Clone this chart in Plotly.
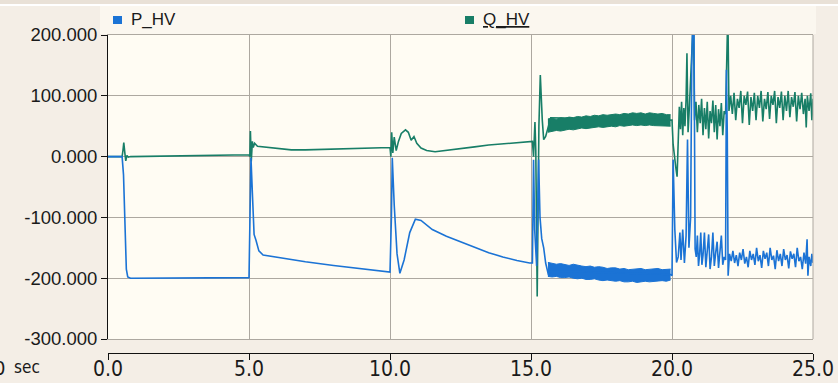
import plotly.graph_objects as go

# ---- time axis ticks ----
x_ticks = [0, 5, 10, 15, 20, 25]
x_ticktext = ["0.0", "5.0", "10.0", "15.0", "20.0", "25.0"]
y_ticks = [200, 100, 0, -100, -200, -300]
y_ticktext = ["200.000", "100.000", "0.000", "-100.000", "-200.000", "-300.000"]

# ---- P_HV (active power), sampled trace ----
t_p = [0.00, 0.50, 0.55, 0.60, 0.65, 0.70, 0.80, 5.00,
       5.03, 5.07, 5.12, 5.18, 5.25, 5.35, 5.50, 6.00, 7.00, 8.00, 9.00, 10.00,
       10.05, 10.08, 10.15, 10.25, 10.35, 10.50, 10.70, 10.90, 11.10, 11.50,
       12.00, 12.50, 13.00, 13.50, 14.00, 14.50, 14.95,
       15.05, 15.09, 15.13, 15.20, 15.27, 15.32, 15.38, 15.45, 15.52, 15.62, 15.70,
       19.95, 20.00, 20.04, 20.10, 20.16, 20.22, 20.28, 20.32, 20.38, 20.44, 20.50,
       20.55, 20.60, 20.66, 20.70, 20.74, 20.78, 20.82, 20.86, 20.90, 20.94, 20.98,
       21.02, 21.06, 21.10, 21.15, 21.20, 21.25, 21.30, 21.35, 21.40, 21.45, 21.50,
       21.55, 21.60, 21.65, 21.70, 21.75, 21.80, 21.85, 21.90, 21.93, 21.96, 21.99,
       22.04, 22.10, 22.16, 22.22, 22.28, 22.34, 22.40, 22.46, 22.52, 22.58, 22.64,
       22.70, 22.76, 22.82, 22.88, 22.94, 23.00, 23.06, 23.12, 23.18, 23.24, 23.30,
       23.36, 23.42, 23.48, 23.54, 23.60, 23.66, 23.72, 23.78, 23.84, 23.90, 23.96,
       24.02, 24.08, 24.14, 24.20, 24.26, 24.32, 24.38, 24.44, 24.50, 24.56, 24.62,
       24.68, 24.74, 24.79, 24.82, 24.86, 24.92, 24.96, 25.00]
p_hv = [0, 0, -30, -120, -185, -198, -200, -199,
        -100, -2, -60, -128, -138, -155, -162, -166, -173, -179, -185, -190,
        -100, -2, -80, -160, -192, -170, -125, -103, -105, -120,
        -131, -140, -150, -158, -165, -171, -175,
        -175, -5, -120, -180, -5, -100, -135, -150, -175, -195, -188,
        -194, -196, -5, -120, -174, -165, -125, -170, -120, -175, -130,
        28, -150, -100, 150, 230, 210, -152, -165, -130, -180, -160,
        -125, -178, -162, -125, -182, -160, -128, -185, -165, -125, -180,
        -158, -140, -183, -162, -130, -178, -165, -170, 143, 40, -196,
        -160, -172, -155, -175, -162, -180, -158, -170, -152, -176, -165,
        -182, -155, -170, -160, -178, -150, -172, -162, -183, -155, -168,
        -158, -180, -150, -170, -163, -185, -154, -172, -160, -180, -152,
        -170, -162, -184, -156, -168, -160, -182, -150, -172, -165, -185,
        -158, -176, -136, -196, -165, -180, -160, -175]

# dense oscillation band between 15.6 s and 20 s (upper / lower envelopes)
t_band = [15.60, 15.75, 15.90, 16.05, 16.20, 16.35, 16.50, 16.65, 16.80, 16.95,
          17.10, 17.25, 17.40, 17.55, 17.70, 17.85, 18.00, 18.15, 18.30, 18.45,
          18.60, 18.75, 18.90, 19.05, 19.20, 19.35, 19.50, 19.65, 19.80, 19.95]
p_band_hi = [-174, -176, -177, -176, -178, -179, -177, -179, -180, -181,
             -180, -182, -181, -182, -184, -183, -183, -185, -184, -186,
             -185, -185, -184, -186, -185, -185, -184, -186, -185, -185]
p_band_lo = [-197, -198, -197, -199, -199, -198, -200, -201, -200, -202,
             -202, -201, -203, -204, -203, -204, -205, -204, -206, -206,
             -205, -207, -206, -205, -206, -205, -205, -204, -205, -203]

# ---- Q_HV (reactive power), sampled trace ----
t_q = [0.00, 0.50, 0.53, 0.56, 0.60, 0.63, 0.67, 0.72, 0.80, 2.00, 4.00, 5.00,
       5.03, 5.05, 5.08, 5.12, 5.15, 5.20, 5.30, 5.50, 6.00, 6.50, 7.00, 8.00, 9.00, 10.00,
       10.03, 10.06, 10.10, 10.15, 10.22, 10.30, 10.40, 10.55, 10.65, 10.75, 10.85, 10.95,
       11.10, 11.30, 11.60, 12.00, 12.50, 13.00, 13.50, 14.00, 14.50, 14.95,
       15.05, 15.09, 15.14, 15.17, 15.22, 15.28, 15.33, 15.40, 15.45, 15.52, 15.62, 15.70,
       19.95, 20.00, 20.04, 20.08, 20.14, 20.18, 20.22, 20.26, 20.30, 20.34, 20.38, 20.42,
       20.46, 20.50, 20.53, 20.57, 20.62, 20.67, 20.72, 20.76, 20.80, 20.85, 20.90, 20.95,
       21.00, 21.05, 21.10, 21.15, 21.20, 21.25, 21.30, 21.35, 21.40, 21.45, 21.50, 21.55,
       21.60, 21.65, 21.70, 21.75, 21.80, 21.85, 21.90, 21.94, 21.98, 22.02, 22.08, 22.14,
       22.20, 22.26, 22.32, 22.38, 22.44, 22.50, 22.56, 22.62, 22.68, 22.74, 22.80, 22.86,
       22.92, 22.98, 23.04, 23.10, 23.16, 23.22, 23.28, 23.34, 23.40, 23.46, 23.52, 23.58,
       23.64, 23.70, 23.76, 23.82, 23.88, 23.94, 24.00, 24.06, 24.12, 24.18, 24.24, 24.30,
       24.36, 24.42, 24.48, 24.54, 24.60, 24.66, 24.72, 24.76, 24.80, 24.86, 24.92, 24.96,
       25.00]
q_hv = [0, 0, 10, 23, 5, -7, 2, -1, 0, 1, 2, 3,
        0, 42, -8, 25, 15, 22, 17, 16, 13, 11, 11, 12, 14, 15,
        0, 40, 6, 32, 10, 25, 38, 44, 40, 27, 33, 22,
        14, 10, 8, 10, 13, 16, 19, 21, 23, 25,
        25, 0, 57, 10, -230, 50, 134, 60, 28, 33, 50, 64,
        60, 60, 20, 0, -20, -33, 10, 82, 45, 90, 35, 80,
        50, 95, 170, 40, 85, 150, 215, 230, 60, 90, 40, 85,
        55, 95, 35, 80, 45, 90, 30, 75, 55, 92, 40, 85,
        28, 78, 50, 88, 35, 75, 70, 230, 240, 75, 100, 70,
        105, 60, 95, 80, 108, 55, 100, 85, 107, 52, 98, 75,
        105, 60, 100, 80, 108, 58, 95, 78, 106, 62, 100, 85,
        108, 55, 98, 80, 107, 60, 100, 75, 108, 65, 98, 82,
        106, 58, 100, 78, 105, 70, 95, 48, 100, 75, 104, 60,
        95]

q_band_hi = [62, 63, 61, 64, 63, 65, 64, 66, 65, 67,
             66, 68, 67, 69, 68, 69, 70, 69, 71, 70,
             72, 71, 72, 70, 72, 71, 70, 71, 69, 69]
q_band_lo = [40, 42, 43, 42, 44, 45, 44, 46, 47, 46,
             47, 48, 49, 48, 49, 50, 49, 51, 50, 51,
             52, 51, 52, 51, 52, 51, 51, 50, 51, 50]

P_COLOR = "#1B73D5"
Q_COLOR = "#187E67"
GRID = "#ADA8A0"

fig = go.Figure()

# Q_HV
fig.add_trace(go.Scatter(x=t_band, y=q_band_lo, mode="lines",
                         line=dict(color=Q_COLOR, width=1), showlegend=False, hoverinfo="skip"))
fig.add_trace(go.Scatter(x=t_band, y=q_band_hi, mode="lines", fill="tonexty",
                         fillcolor=Q_COLOR, line=dict(color=Q_COLOR, width=1),
                         showlegend=False, hoverinfo="skip"))
fig.add_trace(go.Scatter(x=t_q, y=q_hv, mode="lines", name="Q_HV",
                         line=dict(color=Q_COLOR, width=1.6), showlegend=False))

# P_HV
fig.add_trace(go.Scatter(x=t_band, y=p_band_lo, mode="lines",
                         line=dict(color=P_COLOR, width=1), showlegend=False, hoverinfo="skip"))
fig.add_trace(go.Scatter(x=t_band, y=p_band_hi, mode="lines", fill="tonexty",
                         fillcolor=P_COLOR, line=dict(color=P_COLOR, width=1),
                         showlegend=False, hoverinfo="skip"))
fig.add_trace(go.Scatter(x=t_p, y=p_hv, mode="lines", name="P_HV",
                         line=dict(color=P_COLOR, width=1.6), showlegend=False))

# carrier for the detached time axis
fig.add_trace(go.Scatter(x=[0, 25], y=[None, None], xaxis="x2", mode="lines",
                         showlegend=False, hoverinfo="skip"))

W, H = 838, 383
L, R, T, B = 108, 25, 35, 30
plot_h = H - T - B  # x axis line sits at the bottom of this span


def px_x(px):
    return (px - L) / (W - L - R)


def px_y(py):
    return (H - B - py) / plot_h


shapes = [
    # window strip along the top edge
    dict(type="rect", xref="paper", yref="paper", x0=px_x(0), x1=px_x(W),
         y0=px_y(4), y1=px_y(0), fillcolor="#E9E1D7", line=dict(width=0), layer="below"),
    dict(type="rect", xref="paper", yref="paper", x0=px_x(0), x1=px_x(W),
         y0=px_y(6), y1=px_y(4), fillcolor="#FFFFFF", line=dict(width=0), layer="below"),
    dict(type="rect", xref="paper", yref="paper", x0=px_x(100), x1=px_x(816),
         y0=px_y(34), y1=px_y(6), fillcolor="#FBF7EF", line=dict(width=0), layer="below"),
    # right frame edge of the plot area
    dict(type="line", xref="x domain", yref="y domain", x0=1, x1=1, y0=0, y1=1,
         line=dict(color=GRID, width=1)),
    # legend markers
    dict(type="rect", xref="paper", yref="paper", x0=px_x(113), x1=px_x(122),
         y0=px_y(24), y1=px_y(16), fillcolor=P_COLOR, line=dict(width=0)),
    dict(type="rect", xref="paper", yref="paper", x0=px_x(465), x1=px_x(474),
         y0=px_y(24), y1=px_y(16), fillcolor=Q_COLOR, line=dict(width=0)),
]

LEG_FONT = dict(family="Liberation Sans, Arial, sans-serif", size=17, color="#1A1A1A")
NARROW = "Liberation Sans Narrow, DejaVu Sans Condensed, sans-serif"
annotations = [
    dict(text="P_HV", xref="paper", yref="paper", x=px_x(129), y=px_y(20),
         xanchor="left", yanchor="middle", showarrow=False, font=LEG_FONT),
    dict(text="<u>Q_HV</u>", xref="paper", yref="paper", x=px_x(481), y=px_y(20),
         xanchor="left", yanchor="middle", showarrow=False, font=LEG_FONT),
    dict(text="sec", xref="paper", yref="paper", x=px_x(27), y=px_y(367),
         xanchor="center", yanchor="middle", showarrow=False,
         font=dict(family=NARROW, size=17, color="#1A1A1A")),
    dict(text="0", xref="paper", yref="paper", x=px_x(7), y=px_y(368),
         xanchor="right", yanchor="middle", showarrow=False,
         font=dict(family=NARROW, size=20, color="#1A1A1A")),
]

fig.update_layout(
    width=W, height=H,
    margin=dict(l=L, r=R, t=T, b=B, pad=0, autoexpand=False),
    paper_bgcolor="#F4EEE6",
    plot_bgcolor="#FFFCF3",
    showlegend=False,
    shapes=shapes,
    annotations=annotations,
    xaxis=dict(range=[0, 25], tickvals=x_ticks, showticklabels=False, ticks="",
               showgrid=True, gridcolor=GRID, gridwidth=1, zeroline=False,
               showline=True, linecolor=GRID, linewidth=1, mirror=True, anchor="y",
               automargin=False),
    xaxis2=dict(range=[0, 25], overlaying="x", anchor="free", position=0,
                tickvals=x_ticks, ticktext=x_ticktext, ticks="outside", ticklen=6,
                tickcolor="#111111", showline=True, linecolor="#111111", linewidth=1,
                showgrid=False, zeroline=False, automargin=False,
                ticklabelstandoff=-9,
                tickfont=dict(family=NARROW, size=21, color="#1A1A1A")),
    yaxis=dict(range=[-300, 200], domain=[14 / plot_h, 1], tickvals=y_ticks,
               ticktext=y_ticktext, ticks="outside", ticklen=6, tickcolor="#111111",
               showline=True, linecolor="#111111", linewidth=1, automargin=False,
               showgrid=True, gridcolor=GRID, gridwidth=1, zeroline=False,
               tickfont=dict(family="Liberation Sans, Arial, sans-serif", size=18.5,
                             color="#1A1A1A")),
)

fig.write_html("out.html")
